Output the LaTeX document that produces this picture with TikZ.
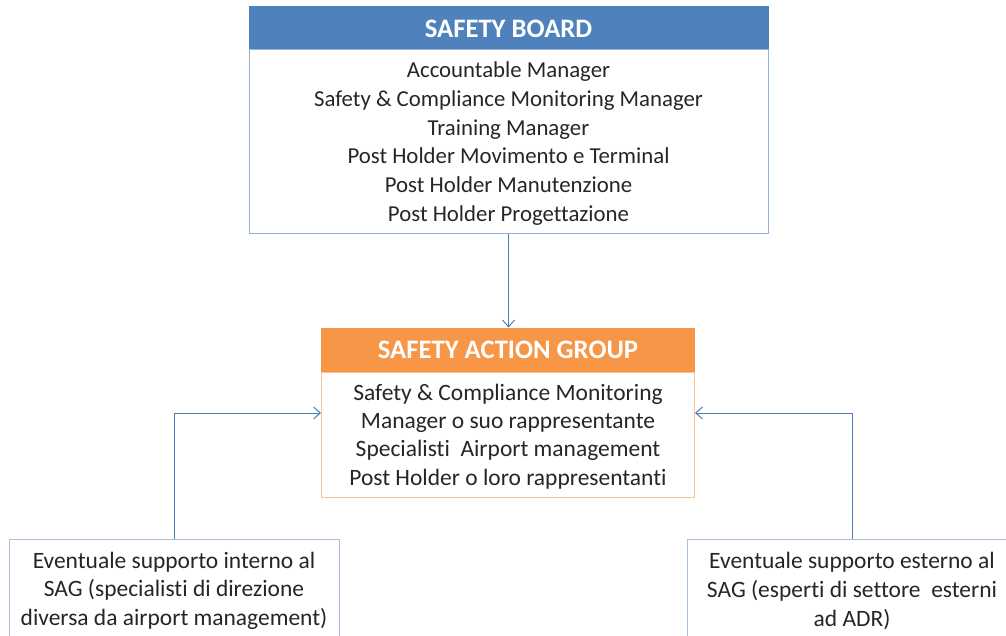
\documentclass[tikz,border=0pt]{standalone}
\usepackage{fontspec}
\setmainfont{Carlito}[Ligatures=NoCommon]
\usetikzlibrary{arrows.meta,calc}

\definecolor{boardblue}{RGB}{79,129,189}
\definecolor{boardline}{RGB}{149,179,215}
\definecolor{sagorange}{RGB}{247,150,70}
\definecolor{sagline}{RGB}{250,192,144}
\definecolor{suppline}{RGB}{167,192,222}
\definecolor{linkblue}{RGB}{74,126,187}
\definecolor{txtgray}{RGB}{38,38,38}

\tikzset{
  headbox/.style={rectangle, inner sep=0pt, line width=0.75pt, text=white,
    font=\fontsize{20}{24}\selectfont\bfseries},
  bodybox/.style={rectangle, inner sep=0pt, line width=0.75pt, fill=white, align=center,
    text=txtgray, font=\fontsize{17.6}{21.7}\selectfont},
  link/.style={draw=linkblue, line width=0.75pt, -{Straight Barb[length=5pt,width=9pt]}},
}

\begin{document}
\begin{tikzpicture}[x=0.75pt,y=0.75pt,yscale=-1,xscale=1]
\clip (0,0) rectangle (1006,635);

% Safety Board
\node [headbox, fill=boardblue, draw=boardblue, minimum width=389.25pt, minimum height=32.25pt] (sbHead) at (508.5,28.5) {SAFETY BOARD};
\node [bodybox, draw=boardline, minimum width=389.25pt, minimum height=137.25pt, font=\fontsize{17.1}{21.5}\selectfont] (sbBody) at (508.5,141.5) {\rule{0pt}{15pt}Accountable Manager\\Safety \& Compliance Monitoring Manager\\Training Manager\\Post Holder Movimento e Terminal\\Post Holder Manutenzione\\Post Holder Progettazione};

% Safety Action Group
\node [headbox, fill=sagorange, draw=sagorange, minimum width=279.75pt, minimum height=33pt] (sagHead) at (508,350) {SAFETY ACTION GROUP};
\node [bodybox, draw=sagline, minimum width=279.75pt, minimum height=93.75pt, font=\fontsize{17.6}{21.2}\selectfont] (sagBody) at (508,434.5) {\rule{0pt}{15pt}Safety \& Compliance Monitoring\\Manager o suo rappresentante\\Specialisti\ \ Airport management\\Post Holder o loro rappresentanti};

% supporto
\node [bodybox, draw=suppline, minimum width=247.5pt, minimum height=75pt] (lSupp) at (174,589) {\rule{0pt}{15pt}Eventuale supporto interno al\\SAG (specialisti di direzione\\diversa da airport management)};
\node [bodybox, draw=suppline, minimum width=247.5pt, minimum height=75pt] (rSupp) at (852,589) {\rule{0pt}{15pt}Eventuale supporto esterno al\\SAG (esperti di settore\ \ esterni\\ad ADR)};

% links
\draw [link] (sbBody.south) -- (sbBody.south |- sagHead.north);
\draw [link] (lSupp.north) |- ($(sagBody.west)+(0,-21.5)$);
\draw [link] (rSupp.north) |- ($(sagBody.east)+(0,-21.5)$);

\end{tikzpicture}
\end{document}
